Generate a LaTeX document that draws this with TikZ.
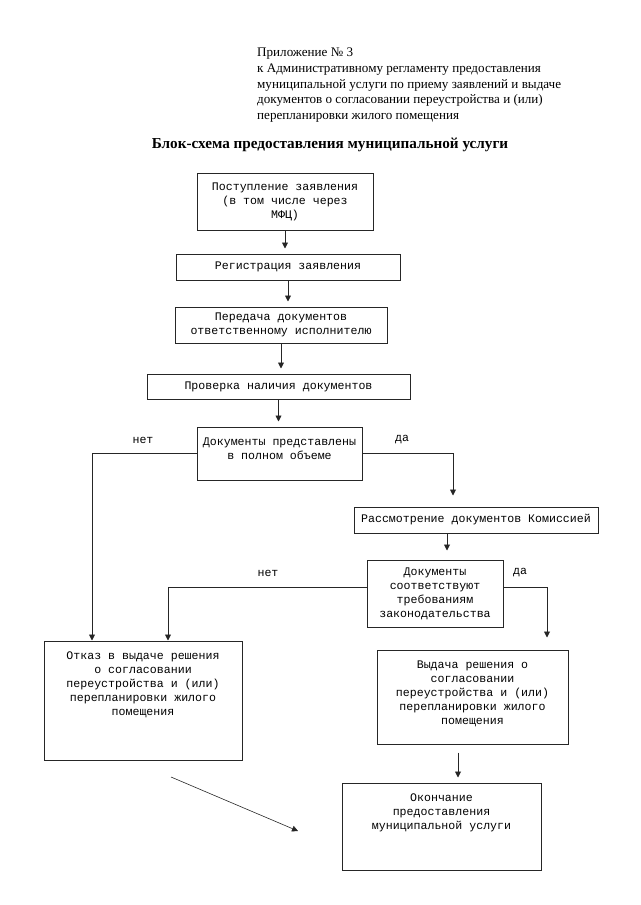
\documentclass[tikz,border=0pt]{standalone}
\usepackage{fontspec}
\setmainfont{Liberation Serif}
\newfontfamily\mono{Liberation Mono}
\usetikzlibrary{arrows.meta}

\begin{document}
\begin{tikzpicture}[x=1pt,y=-1pt,
  txt/.style={font=\mono\fontsize{11.6}{14}\selectfont,align=center,inner sep=0pt},
  blok/.style={draw=black!85,line width=1pt,txt},
  verh/.style={txt,anchor=north,yshift=-11pt},
  arr/.style={-{Triangle[length=6pt,width=6pt]},line width=0.9pt,draw=black!85,shorten >=5pt},
  otvet/.style={txt}]
\useasboundingbox (0,0) rectangle (640,905);
% шапка
\node[anchor=north west,align=left,inner sep=0pt,font=\fontsize{13.1}{15.6}\selectfont] (pril) at (257,48)
  {Приложение № 3\\к Административному регламенту предоставления\\муниципальной услуги по приему заявлений и выдаче\\документов о согласовании переустройства и (или)\\перепланировки жилого помещения};
\node[font=\bfseries\fontsize{15.2}{17}\selectfont] (zag) at (330,145) {Блок-схема предоставления муниципальной услуги};

% блоки
\node[blok,minimum width=176pt,minimum height=57pt] (postup) at (285,201.5) {Поступление заявления\\(в том числе через\\МФЦ)};
\node[blok,minimum width=224pt,minimum height=26pt] (registr) at (288,267) {Регистрация заявления};
\node[blok,minimum width=212pt,minimum height=36pt] (peredacha) at (281,325) {Передача документов\\ответственному исполнителю};
\node[blok,minimum width=263pt,minimum height=25pt] (proverka) at (278.5,386.5) {Проверка наличия документов};
\node[blok,minimum width=165pt,minimum height=53pt,label={[verh]north:{Документы представлены\\в полном объеме}}] (dokpred) at (279.5,453.5) {};
\node[blok,minimum width=244pt,minimum height=26pt] (rassm) at (476,520) {Рассмотрение документов Комиссией};
\node[blok,minimum width=136pt,minimum height=67pt] (sootv) at (435,593.5) {Документы\\соответствуют\\требованиям\\законодательства};
\node[blok,minimum width=198pt,minimum height=119pt,label={[verh]north:{Отказ в выдаче решения\\о согласовании\\переустройства и (или)\\перепланировки жилого\\помещения}}] (otkaz) at (143,700.5) {};
\node[blok,minimum width=191pt,minimum height=94pt,label={[verh]north:{Выдача решения о\\согласовании\\переустройства и (или)\\перепланировки жилого\\помещения}}] (vydacha) at (472.5,697) {};
\node[blok,minimum width=199pt,minimum height=87pt,label={[verh]north:{Окончание\\предоставления\\муниципальной услуги}}] (okonch) at (441.5,826.5) {};

% подписи ветвей
\node[otvet] (net1) at (143,440) {нет};
\node[otvet] (da1) at (402,440) {да};
\node[otvet] (net2) at (268,573) {нет};
\node[otvet] (da2) at (520,573) {да};

% линии
\coordinate (levo) at (92,0);
\coordinate (pravo) at (453,0);
\coordinate (sered) at (447,0);
\coordinate (nety) at (168,0);
\coordinate (dax) at (547,0);
\coordinate (niz) at (458,0);
\coordinate (kosA) at (171,777);
\coordinate (kosB) at (298,831);
\draw[arr] (postup) -- (postup.south |- registr.north);
\draw[arr] (registr) -- (registr.south |- peredacha.north);
\draw[arr] (peredacha) -- (peredacha.south |- proverka.north);
\draw[arr] (proverka) -- (proverka.south |- dokpred.north);
\draw[arr,shorten >=0pt] (dokpred.west) -| (levo |- otkaz.north);
\draw[arr,shorten >=11pt] (dokpred.east) -| (pravo |- rassm.north);
\draw[arr,shorten >=9pt] (sered |- rassm.south) -- (sered |- sootv.north);
\draw[arr,shorten >=0pt] ([yshift=6.5pt]sootv.west) -| (nety |- otkaz.north);
\draw[arr,shorten >=12pt] ([yshift=6.5pt]sootv.east) -| (dax |- vydacha.north);
\draw[arr,shorten <=8pt] (niz |- vydacha.south) -- (niz |- okonch.north);
\draw[arr,shorten >=0pt,line width=0.6pt] (kosA) -- (kosB);
\end{tikzpicture}
\end{document}
